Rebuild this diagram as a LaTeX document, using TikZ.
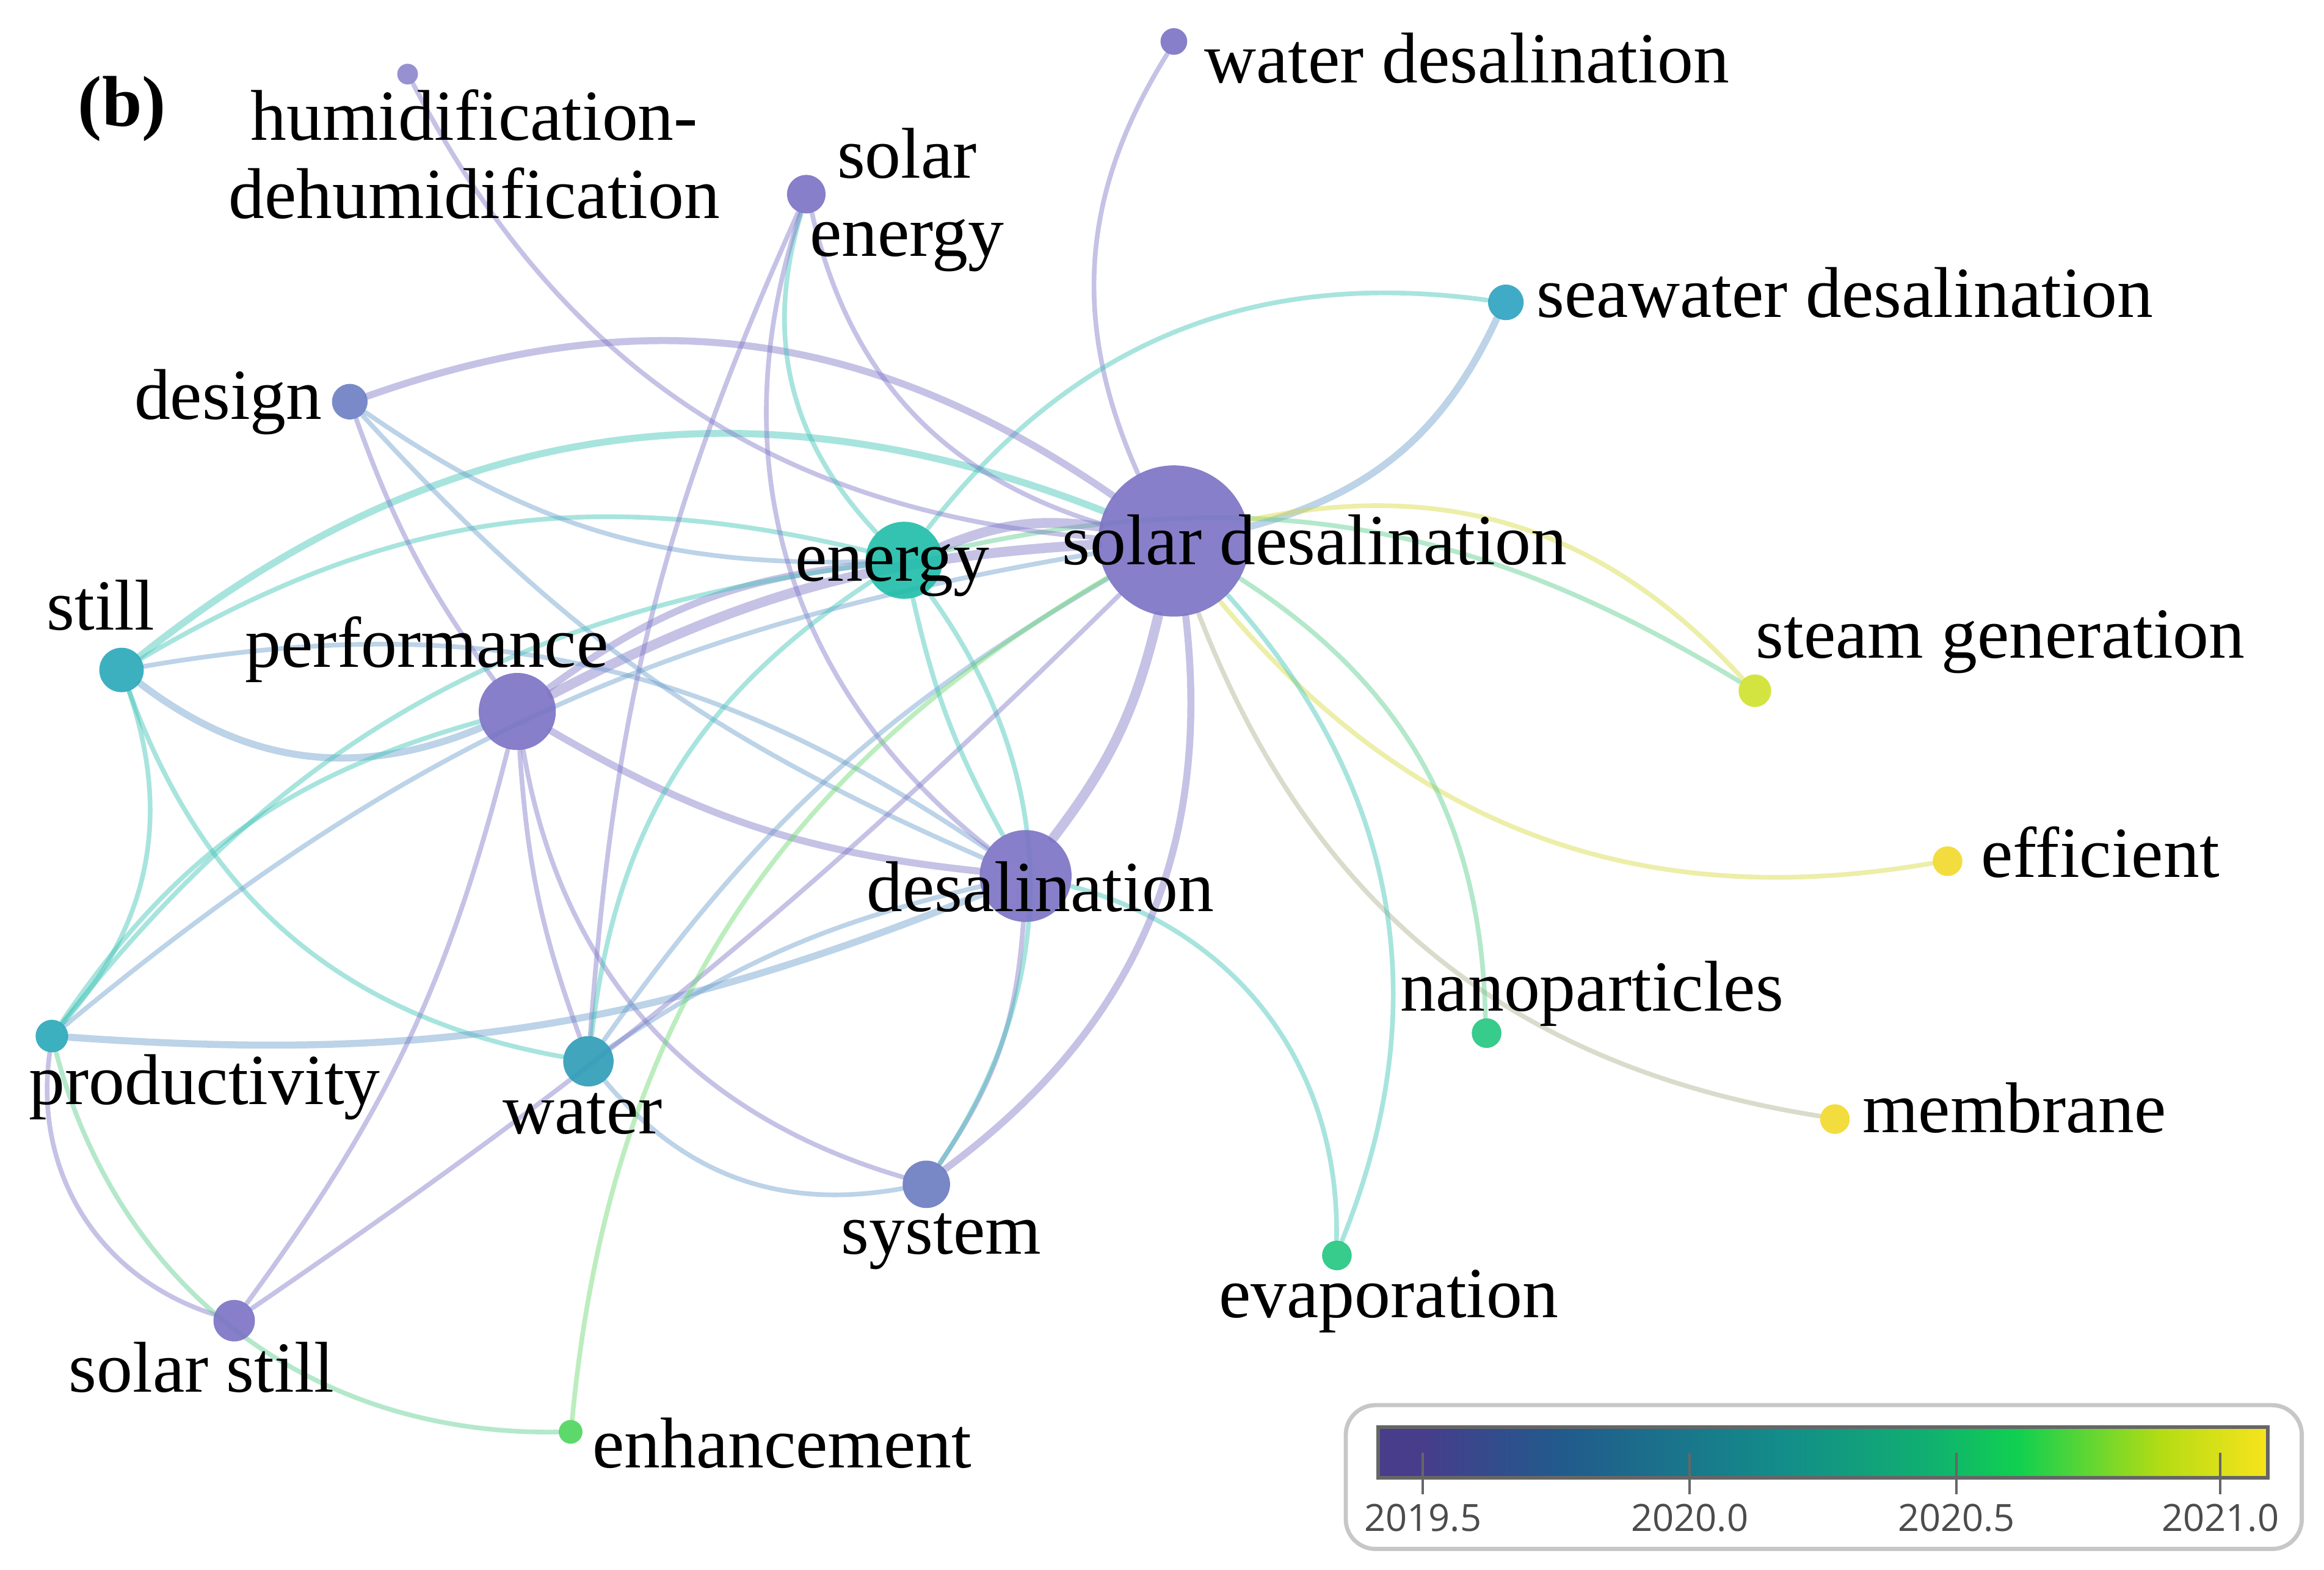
\documentclass[tikz,border=0pt]{standalone}
\usepackage{fontspec}
\setmainfont{Liberation Serif}
\newfontfamily\cbfont{Open Sans}
\usetikzlibrary{backgrounds}
\pgfdeclarelayer{bottom}
\pgfsetlayers{bottom,background,main}
\definecolor{nPur}{HTML}{7A72C4}
\definecolor{nPurL}{HTML}{8C86CE}
\definecolor{nBlueP}{HTML}{6C7EC4}
\definecolor{nSys}{HTML}{6A7AC0}
\definecolor{nTeal}{HTML}{1EBDA8}
\definecolor{nCyan}{HTML}{28A8BA}
\definecolor{nWater}{HTML}{2E9CB8}
\definecolor{nSea}{HTML}{2CA2C0}
\definecolor{nGreen}{HTML}{22C680}
\definecolor{nLime}{HTML}{4CD55C}
\definecolor{nSteam}{HTML}{CFE22C}
\definecolor{nYel}{HTML}{F2DA2A}
\definecolor{ePur}{HTML}{8078C8}
\definecolor{eTeal}{HTML}{40C4B8}
\definecolor{eBlue}{HTML}{6C9ECC}
\definecolor{eGreen}{HTML}{5ACC8C}
\definecolor{eLime}{HTML}{6CD870}
\definecolor{eYel}{HTML}{D8DA40}
\definecolor{eGray}{HTML}{B0B090}
\tikzset{
  kw/.style={circle, inner sep=0pt, draw=none, fill opacity=0.9},
  lab/.style={font=\fontsize{13.8}{15}\selectfont, inner sep=0pt, text=black},
  lnk/.style={draw opacity=0.45, line cap=round},
  ep/.style={lnk, draw=ePur},
  et/.style={lnk, draw=eTeal},
  eb/.style={lnk, draw=eBlue},
  eg/.style={lnk, draw=eGreen},
  el/.style={lnk, draw=eLime},
  ey/.style={lnk, draw=eYel},
  egr/.style={lnk, draw=eGray},
  wa/.style={line width=0.9pt},
  wb/.style={line width=1.35pt},
  wc/.style={line width=1.9pt},
}
\begin{document}
\begin{tikzpicture}[x=0.1mm,y=-0.1mm]
\useasboundingbox (0,0) rectangle (1568,1059);
\begin{pgfonlayer}{bottom}
\fill[white] (0,0) rectangle (1568,1059);
\end{pgfonlayer}

% ---------- keyword nodes ----------
\node[kw, fill=nPurL,  minimum size=1.4mm]  (hum)    at (275,50)  {};
\node[kw, fill=nPur,   minimum size=2.6mm]  (solen)  at (544,131) {};
\node[kw, fill=nPur,   minimum size=1.8mm]  (wdes)   at (792,28)  {};
\node[kw, fill=nSea,   minimum size=2.4mm]  (swd)    at (1016,204) {};
\node[kw, fill=nBlueP, minimum size=2.4mm]  (design) at (236,271) {};
\node[kw, fill=nTeal,  minimum size=5.2mm]  (energy) at (610,378) {};
\node[kw, fill=nPur,   minimum size=10.2mm] (sd)     at (792,365) {};
\node[kw, fill=nSteam, minimum size=2.2mm]  (steam)  at (1184,466) {};
\node[kw, fill=nCyan,  minimum size=3.0mm]  (still)  at (82,452)  {};
\node[kw, fill=nPur,   minimum size=5.2mm]  (perf)   at (349,480) {};
\node[kw, fill=nPur,   minimum size=6.2mm]  (desal)  at (692,591) {};
\node[kw, fill=nYel,   minimum size=2.0mm]  (eff)    at (1314,581) {};
\node[kw, fill=nGreen, minimum size=2.0mm]  (nano)   at (1003,697) {};
\node[kw, fill=nCyan,  minimum size=2.2mm]  (prod)   at (35,699)  {};
\node[kw, fill=nWater, minimum size=3.4mm]  (water)  at (397,716) {};
\node[kw, fill=nYel,   minimum size=2.0mm]  (memb)   at (1238,755) {};
\node[kw, fill=nSys,   minimum size=3.2mm]  (system) at (625,799) {};
\node[kw, fill=nGreen, minimum size=2.0mm]  (evap)   at (902,847) {};
\node[kw, fill=nPur,   minimum size=2.8mm]  (sstill) at (158,891) {};
\node[kw, fill=nLime,  minimum size=1.6mm]  (enh)    at (385,966) {};

% ---------- links ----------
\begin{pgfonlayer}{background}
\draw[ep,wa] (sd) to[bend left=28] (wdes);
\draw[eb,wb] (sd) to[bend right=25] (swd);
\draw[et,wa] (energy) to[bend left=30] (swd);
\draw[eg,wa] (energy) to[bend left=22] (steam);
\draw[ey,wa] (sd) to[bend left=30] (steam);
\draw[ey,wa] (sd) to[bend right=30] (eff);
\draw[egr,wa] (sd) to[bend right=30] (memb);
\draw[eg,wa] (sd) to[bend left=28] (nano);
\draw[et,wa] (sd) to[bend left=32] (evap);
\draw[et,wa] (desal) to[bend left=38] (evap);
\draw[ep,wc] (sd) to[bend left=12] (desal);
\draw[ep,wb] (sd) to[bend left=30] (system);
\draw[ep,wa] (desal) to[bend left=15] (system);
\draw[et,wa] (energy) to[bend left=35] (system);
\draw[eb,wa] (water) to[bend right=30] (system);
\draw[ep,wa] (perf) to[bend right=32] (system);
\draw[ep,wc] (sd) to[bend right=15] (energy);
\draw[ep,wc] (perf) to[bend left=12] (sd);
\draw[ep,wb] (perf) to[bend left=15] (energy);
\draw[ep,wb] (perf) to[bend right=12] (desal);
\draw[eb,wb] (still) to[bend right=30] (perf);
\draw[et,wb] (still) to[bend left=30] (sd);
\draw[et,wa] (still) to[bend left=22] (energy);
\draw[eb,wa] (still) to[bend left=22] (desal);
\draw[et,wa] (still) to[bend left=30] (prod);
\draw[et,wa] (still) to[bend right=30] (water);
\draw[ep,wb] (design) to[bend left=27] (sd);
\draw[ep,wa] (design) to[bend right=8] (perf);
\draw[eb,wa] (design) to[bend right=18] (energy);
\draw[eb,wa] (design) to[bend right=12] (desal);
\draw[ep,wa] (hum) to[bend right=29] (sd);
\draw[ep,wa] (solen) to[bend right=30] (sd);
\draw[et,wa] (solen) to[bend right=30] (energy);
\draw[ep,wa] (solen) to[bend right=35] (desal);
\draw[ep,wa] (solen) to[bend right=10] (water);
\draw[et,wa] (prod) to[bend left=20] (perf);
\draw[et,wa] (prod) to[bend left=22] (energy);
\draw[eb,wa] (prod) to[bend left=15] (sd);
\draw[eb,wb] (prod) to[bend right=13] (desal);
\draw[ep,wa] (prod) to[bend right=40] (sstill);
\draw[eg,wa] (prod) to[bend right=38] (enh);
\draw[et,wa] (water) to[bend left=25] (energy);
\draw[eb,wa] (water) to[bend left=12] (sd);
\draw[eb,wa] (water) to[bend left=10] (desal);
\draw[ep,wa] (perf) to[bend right=8] (water);
\draw[ep,wa] (sstill) to[bend right=11] (perf);
\draw[ep,wa] (sstill) to[bend right=5] (sd);
\draw[el,wa] (enh) to[bend left=27] (sd);
\draw[et,wa] (energy) to[bend right=8] (desal);
\end{pgfonlayer}

% ---------- labels ----------
\node[lab, align=center] (hum-l) at (320,104) {humidification-\\dehumidification};
\node[lab, align=center] (solen-l) at (612,135) {solar\\energy};
\node[lab, anchor=base west] (wdes-l) at (812,56) {water desalination};
\node[lab, anchor=base west] (swd-l) at (1036,214) {seawater desalination};
\node[lab, anchor=base east] (design-l) at (218,283) {design};
\node[lab, anchor=base] (energy-l) at (602,392) {energy};
\node[lab, anchor=base] (sd-l) at (887,381) {solar desalination};
\node[lab, anchor=base west] (steam-l) at (1184,444) {steam generation};
\node[lab, anchor=base] (still-l) at (68,425) {still};
\node[lab, anchor=base] (perf-l) at (288,450) {performance};
\node[lab, anchor=base] (desal-l) at (702,615) {desalination};
\node[lab, anchor=base west] (eff-l) at (1336,592) {efficient};
\node[lab, anchor=base] (nano-l) at (1074,682) {nanoparticles};
\node[lab, anchor=base] (prod-l) at (138,745) {productivity};
\node[lab, anchor=base] (water-l) at (393,765) {water};
\node[lab, anchor=base west] (memb-l) at (1256,764) {membrane};
\node[lab, anchor=base] (system-l) at (635,846) {system};
\node[lab, anchor=base] (evap-l) at (937,889) {evaporation};
\node[lab, anchor=base] (sstill-l) at (136,939) {solar still};
\node[lab, anchor=base west] (enh-l) at (399,990) {enhancement};
\node[lab, anchor=base west, font=\fontsize{13.8}{15}\selectfont\bfseries] (tag) at (52,85) {(b)};

% ---------- colour bar ----------
\draw[draw=black!22, line width=0.8pt, fill=white, rounded corners=2mm] (908,948) rectangle (1553,1045);
\shade[left color={rgb,255:red,71;green,61;blue,139}, right color={rgb,255:red,71;green,61;blue,139}] (930,963) rectangle (960,997);
\shade[left color={rgb,255:red,71;green,61;blue,139}, right color={rgb,255:red,34;green,89;blue,140}] (960,963) rectangle (1050,997);
\shade[left color={rgb,255:red,34;green,89;blue,140}, right color={rgb,255:red,19;green,140;blue,138}] (1050,963) rectangle (1200,997);
\shade[left color={rgb,255:red,19;green,140;blue,138}, right color={rgb,255:red,16;green,176;blue,112}] (1200,963) rectangle (1302,997);
\shade[left color={rgb,255:red,16;green,176;blue,112}, right color={rgb,255:red,16;green,208;blue,80}] (1302,963) rectangle (1362,997);
\shade[left color={rgb,255:red,16;green,208;blue,80}, right color={rgb,255:red,180;green,220;blue,20}] (1362,963) rectangle (1458,997);
\shade[left color={rgb,255:red,180;green,220;blue,20}, right color={rgb,255:red,248;green,228;blue,28}] (1458,963) rectangle (1530,997);
\draw[black!60, line width=0.7pt] (930,963) rectangle (1530,997);
\foreach \tx/\tl in {960/2019.5, 1140/2020.0, 1320/2020.5, 1498/2021.0}{
  \draw[black!60, line width=0.5pt] (\tx,980) -- (\tx,1008);
  \node[font=\cbfont\fontsize{7.2}{8}\selectfont, text=black!70, inner sep=0pt] at (\tx,1024) {\tl};
}
\end{tikzpicture}
\end{document}
